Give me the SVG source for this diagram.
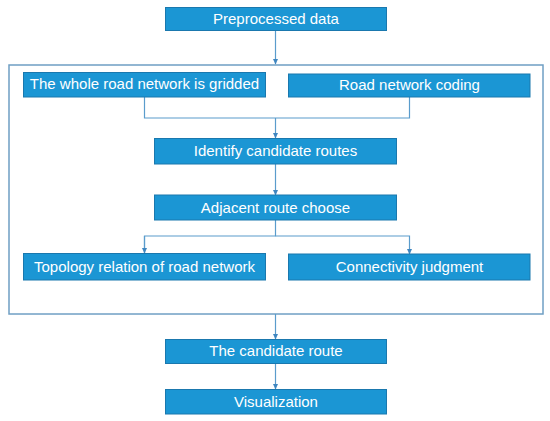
<svg xmlns="http://www.w3.org/2000/svg" width="550" height="421" viewBox="0 0 550 421">
<defs>
<style>
.box{fill:#1b96d4;stroke:#1a78ae;stroke-width:1}
.t{font-family:"Liberation Sans",Arial,sans-serif;font-size:15px;fill:#ffffff;text-anchor:middle}
.ln{fill:none;stroke:#5a9ccc;stroke-width:1.2}
.frame{fill:none;stroke:#6f9fc4;stroke-width:1.5}
</style>
<marker id="ah" markerWidth="6" markerHeight="6" refX="5" refY="3" orient="auto" markerUnits="userSpaceOnUse">
<path d="M0,0.5 L5.5,3 L0,5.5 Z" fill="#3f86c0"/>
</marker>
</defs>
<rect width="550" height="421" fill="#ffffff"/>
<rect class="frame" x="9" y="65" width="534" height="249"/>
<g id="connectors">
<path class="ln" d="M275.5,30.5 V64" marker-end="url(#ah)"/>
<path class="ln" d="M144.5,97 V118 H409.5 V97"/>
<path class="ln" d="M275.5,118 V138" marker-end="url(#ah)"/>
<path class="ln" d="M275.5,164 V195" marker-end="url(#ah)"/>
<path class="ln" d="M275.5,220 V236 H144.5 V253"/>
<path class="ln" d="M144.5,236 V253" marker-end="url(#ah)"/>
<path class="ln" d="M275.5,236 H409.5 V254" marker-end="url(#ah)"/>
<path class="ln" d="M275.5,314 V339" marker-end="url(#ah)"/>
<path class="ln" d="M275.5,363.5 V389" marker-end="url(#ah)"/>
</g>
<g id="n1"><rect class="box" x="165.5" y="7.5" width="221" height="23"/><text class="t" x="276" y="23.5">Preprocessed data</text></g>
<g id="n2"><rect class="box" x="23.5" y="72.5" width="242" height="24.5"/><text class="t" x="144.5" y="89">The whole road network is gridded</text></g>
<g id="n3"><rect class="box" x="288.5" y="74" width="241.5" height="23"/><text class="t" x="409.5" y="90">Road network coding</text></g>
<g id="n4"><rect class="box" x="154.5" y="138.5" width="242" height="25.5"/><text class="t" x="275.5" y="156">Identify candidate routes</text></g>
<g id="n5"><rect class="box" x="154.5" y="195" width="242" height="25"/><text class="t" x="275.5" y="212.5">Adjacent route choose</text></g>
<g id="n6"><rect class="box" x="23.5" y="253.5" width="242" height="26.5"/><text class="t" x="144.5" y="271.5">Topology relation of road network</text></g>
<g id="n7"><rect class="box" x="288.5" y="254" width="241.5" height="26"/><text class="t" x="409.5" y="271.5">Connectivity judgment</text></g>
<g id="n8"><rect class="box" x="165.5" y="339.5" width="221" height="24"/><text class="t" x="276" y="356">The candidate route</text></g>
<g id="n9"><rect class="box" x="165.5" y="389.5" width="221" height="24.5"/><text class="t" x="276" y="406.5">Visualization</text></g>
</svg>
